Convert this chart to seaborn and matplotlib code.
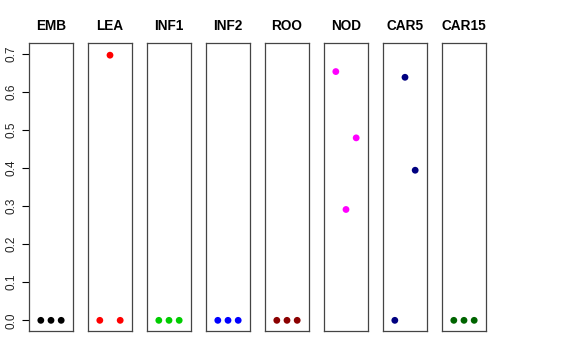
import numpy as np
import pandas as pd
import matplotlib
matplotlib.use("Agg")
import matplotlib.pyplot as plt
import seaborn as sns

# tissues, one panel each, three replicates per tissue
tissues = ["EMB", "LEA", "INF1", "INF2", "ROO", "NOD", "CAR5", "CAR15"]
colors = ["black", "red", "#00CD00", "blue", "#8B0000", "magenta", "#000080", "#006400"]
replicate = [1, 2, 3]
emb = [0.0, 0.0, 0.0]
lea = [0.0, 0.696, 0.0]
inf1 = [0.0, 0.0, 0.0]
inf2 = [0.0, 0.0, 0.0]
roo = [0.0, 0.0, 0.0]
nod = [0.653, 0.291, 0.479]
car5 = [0.0, 0.638, 0.394]
car15 = [0.0, 0.0, 0.0]
values = [emb, lea, inf1, inf2, roo, nod, car5, car15]

sns.set_theme(style="white")
plt.rcParams["font.family"] = ["Liberation Sans", "DejaVu Sans"]
plt.rcParams["text.color"] = "black"
plt.rcParams["ytick.color"] = "black"

fig = plt.figure(figsize=(5.76, 3.6), dpi=100)
W, H = 576, 360
left0, step, width = 29, 59, 44
top, bottom = 43, 331

for i, (name, col, vals) in enumerate(zip(tissues, colors, values)):
    ax = fig.add_axes([(left0 + i * step) / W, 1 - bottom / H,
                       width / W, (bottom - top) / H])
    df = pd.DataFrame({"rep": replicate, "val": vals})
    sns.scatterplot(data=df, x="rep", y="val", color=col, s=24,
                    edgecolor="none", ax=ax, legend=False)
    ax.set_xlim(-0.16, 4.16)
    ax.set_ylim(-0.028, 0.728)
    ax.set_xticks([])
    ax.set_xlabel("")
    ax.set_ylabel("")
    ax.set_title(name, fontsize=9.8, fontweight="bold", pad=9, color="black")
    for sp in ax.spines.values():
        sp.set_color("#444444")
        sp.set_linewidth(0.9)
    if i == 0:
        ax.set_yticks(np.arange(0, 0.71, 0.1))
        ax.set_yticklabels([f"{t:.1f}" for t in np.arange(0, 0.71, 0.1)],
                           rotation=90, va="center", fontsize=8.5, color="#222222")
        ax.tick_params(axis="y", left=True, length=5, width=0.8,
                       color="black", pad=3)
    else:
        ax.set_yticks([])

fig.savefig("out.png", dpi=100)
